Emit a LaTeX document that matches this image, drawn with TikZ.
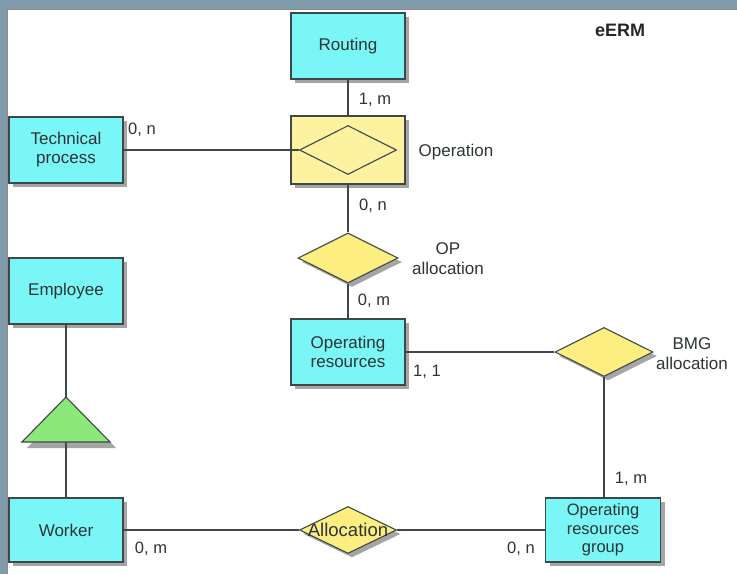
\documentclass[tikz,border=0pt]{standalone}
\usepackage{fontspec}
\setmainfont{Liberation Sans}
\usetikzlibrary{shapes.geometric,shadows}

\definecolor{entfill}{RGB}{122,246,246}
\definecolor{relfill}{RGB}{252,238,128}
\definecolor{opfill}{RGB}{252,242,160}
\definecolor{genfill}{RGB}{140,232,120}
\definecolor{edgecol}{RGB}{62,72,72}
\definecolor{txtcol}{RGB}{45,52,55}
\definecolor{framecol}{RGB}{128,156,172}
\definecolor{shadowcol}{RGB}{165,165,165}

\tikzset{
  boxshadow/.style={drop shadow={shadow xshift=4pt,shadow yshift=-4pt,fill=shadowcol,opacity=1}},
  entity/.style={rectangle, draw=edgecol, line width=1.3pt, fill=entfill, boxshadow,
    minimum width=114pt, minimum height=66pt, inner sep=2pt, align=center,
    text=txtcol, font=\fontsize{17}{19}\selectfont},
  relation/.style={diamond, draw=edgecol, line width=1.1pt, fill=relfill, boxshadow,
    minimum width=98pt, minimum height=49pt, inner sep=0pt},
  link/.style={draw=edgecol, line width=1.3pt},
  card/.style={text=txtcol, font=\fontsize{16.5}{18}\selectfont, inner sep=1pt},
  rlabel/.style={text=txtcol, font=\fontsize{17}{20}\selectfont, align=center, inner sep=1pt},
}

\begin{document}
\begin{tikzpicture}[x=1pt,y=-1pt]
  % page frame
  \useasboundingbox (0,0) rectangle (737,574);
  \fill[white] (0,0) rectangle (737,574);
  \fill[framecol] (0,0) rectangle (737,9);
  \fill[framecol] (0,0) rectangle (7,574);
  \draw[black!45, line width=0.8pt] (7,574) -- (7,9) -- (737,9);

  % entities
  \node[entity] (routing)  at (348,46)  {Routing};
  \node[entity, fill=opfill, minimum height=68pt] (operation) at (348,150) {};
  \node[diamond, draw=edgecol, line width=1.1pt, fill=opfill, minimum width=97pt,
        minimum height=49pt, inner sep=0pt] (opd) at (348,150) {};
  \node[entity] (tech)     at (66,150)  {Technical\\process};
  \node[entity] (opres)    at (348,352) {Operating\\resources};
  \node[entity, minimum width=115pt, minimum height=64pt,
        font=\fontsize{16.5}{18.5}\selectfont] (group) at (603,530)
        {Operating\\resources\\group};
  \node[entity] (employee) at (66,291)  {Employee};
  \node[entity, minimum height=64pt] (worker) at (66,530) {Worker};

  % relationships
  \node[relation, minimum width=100pt, minimum height=50pt] (opalloc) at (348,258) {};
  \node[relation] (bmg)   at (604,352) {};
  \node[relation, minimum width=97pt, minimum height=47pt] (alloc) at (348,530) {};
  \node[rlabel, font=\fontsize{18.5}{20}\selectfont] (alloctext) at (alloc.center) {Allocation};

  % generalisation triangle with its shadow
  \coordinate (genapex) at (66,397);
  \coordinate (genbase) at (66,442);
  \fill[shadowcol] (71,402) -- (27,448) -- (116,448) -- cycle;
  \filldraw[draw=edgecol, line width=1.1pt, fill=genfill, line join=miter]
    (genapex) -- (22,442) -- (110,442) -- cycle;

  % connectors
  \draw[link] (routing.south) -- (operation.north);
  \draw[link] (tech.east) -- (opd.west);
  \draw[link] (operation.south) -- (opalloc.north);
  \draw[link] (opalloc.south) -- (opres.north);
  \draw[link] (opres.east) -- (bmg.west);
  \draw[link] (bmg.south) -- (group.north -| bmg.south);
  \draw[link] (employee.south) -- (genapex);
  \draw[link] (genbase) -- (worker.north);
  \draw[link] (worker.east) -- (alloc.west);
  \draw[link] (alloc.east) -- (group.west);

  % cardinalities and labels
  \node[card] (c1) at (375,100) {1, m};
  \node[card] (c2) at (142,130) {0, n};
  \node[card] (c3) at (373,206) {0, n};
  \node[card] (c4) at (374,301) {0, m};
  \node[card] (c5) at (427,372) {1, 1};
  \node[card] (c6) at (631,479) {1, m};
  \node[card] (c7) at (151,549) {0, m};
  \node[card] (c8) at (521,549) {0, n};

  \node[rlabel] (l1) at (456,152) {Operation};
  \node[rlabel] (l2) at (448,259) {OP\\allocation};
  \node[rlabel] (l3) at (692,354) {BMG\\allocation};
  \node[text=black!85, font=\fontsize{18}{20}\bfseries\selectfont] (title) at (620,30) {eERM};
\end{tikzpicture}
\end{document}
